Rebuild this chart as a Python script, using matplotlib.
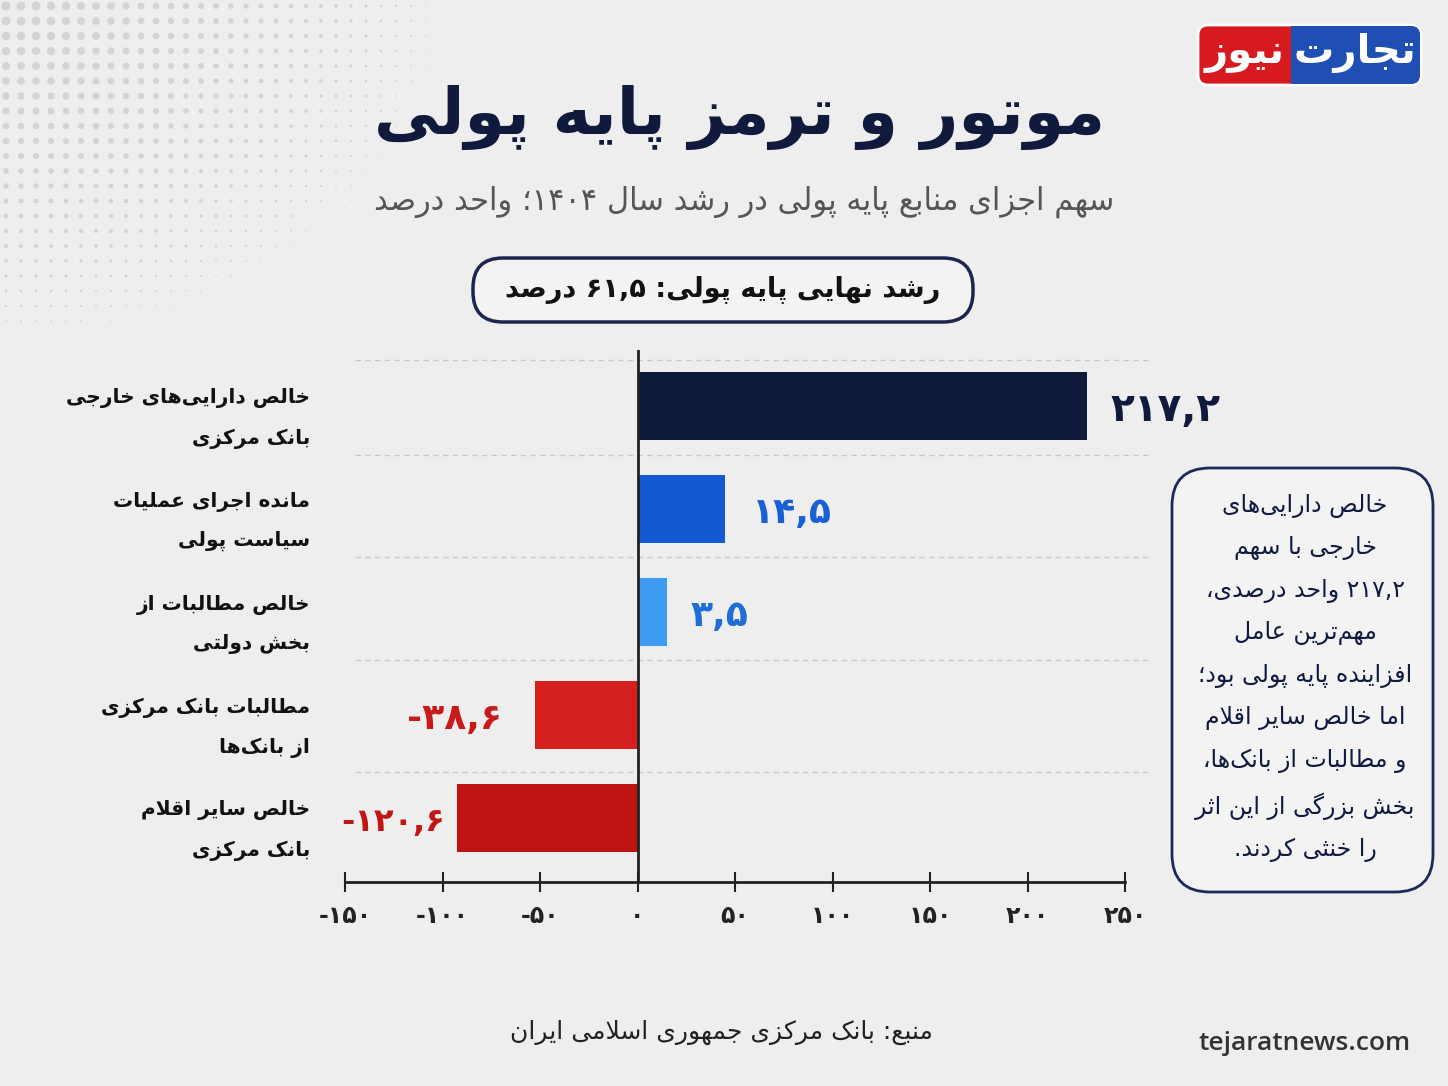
import re
import matplotlib.pyplot as plt
import numpy as np
from matplotlib.patches import FancyBboxPatch, Rectangle

# ---- data ----
categories = [
    'خالص دارایی‌های خارجی\nبانک مرکزی',
    'مانده اجرای عملیات\nسیاست پولی',
    'خالص مطالبات از\nبخش دولتی',
    'مطالبات بانک مرکزی\nاز بانک‌ها',
    'خالص سایر اقلام\nبانک مرکزی',
]
values = [217.2, 14.5, 3.5, -38.6, -120.6]        # printed labels
bar_len = [230.6, 44.9, 15.2, -52.6, -92.6]       # bar lengths as drawn on the axis
bar_colors = ['#0f1a3d', '#1259d2', '#3b9cf2', '#d41f1f', '#c01313']
label_colors = ['#0f1a3d', '#1a5fd4', '#1f6ed8', '#c81a1a', '#c21616']
xticks = [-150, -100, -50, 0, 50, 100, 150, 200, 250]

title = 'موتور و ترمز پایه پولی'
subtitle = 'سهم اجزای منابع پایه پولی در رشد سال ۱۴۰۴؛ واحد درصد'
headline = 'رشد نهایی پایه پولی: ۶۱,۵ درصد'
note_lines = [
    'خالص دارایی‌های',
    'خارجی با سهم',
    '۲۱۷,۲ واحد درصدی،',
    'مهم‌ترین عامل',
    'افزاینده پایه پولی بود؛',
    'اما خالص سایر اقلام',
    'و مطالبات از بانک‌ها،',
    'بخش بزرگی از این اثر',
    'را خنثی کردند.',
]
source = 'منبع: بانک مرکزی جمهوری اسلامی ایران'

# ---- minimal persian shaping (no arabic_reshaper available) ----
DUAL = {'ب': 0xFE8F, 'ت': 0xFE95, 'ث': 0xFE99, 'ج': 0xFE9D, 'ح': 0xFEA1, 'خ': 0xFEA5,
        'س': 0xFEB1, 'ش': 0xFEB5, 'ص': 0xFEB9, 'ض': 0xFEBD, 'ط': 0xFEC1, 'ظ': 0xFEC5,
        'ع': 0xFEC9, 'غ': 0xFECD, 'ف': 0xFED1, 'ق': 0xFED5, 'ل': 0xFEDD, 'م': 0xFEE1,
        'ن': 0xFEE5, 'ه': 0xFEE9, 'ي': 0xFEF1, 'پ': 0xFB56, 'چ': 0xFB7A, 'ک': 0xFB8E,
        'گ': 0xFB92, 'ی': 0xFBFC}
RIGHT = {'ا': 0xFE8D, 'آ': 0xFE81, 'د': 0xFEA9, 'ذ': 0xFEAB, 'ر': 0xFEAD, 'ز': 0xFEAF,
         'و': 0xFEED, 'ژ': 0xFB8A}


def shape_line(s):
    out = []
    i = 0
    while i < len(s):
        c = s[i]
        pj = i > 0 and s[i - 1] in DUAL
        if c == '\u200c':
            i += 1
            continue
        if c == 'ل' and i + 1 < len(s) and s[i + 1] in 'اآ':
            base = 0xFEFB if s[i + 1] == 'ا' else 0xFEF5
            out.append(chr(base + (1 if pj else 0)))
            i += 2
            continue
        if c in DUAL:
            nj = i + 1 < len(s) and (s[i + 1] in DUAL or s[i + 1] in RIGHT)
            b = DUAL[c]
            out.append(chr(b + 3 if pj and nj else b + 1 if pj else b + 2 if nj else b))
        elif c in RIGHT:
            out.append(chr(RIGHT[c] + (1 if pj else 0)))
        else:
            out.append(c)
        i += 1
    vis = ''.join(out)[::-1]
    return re.sub(r'[0-9۰-۹][0-9۰-۹,.]*', lambda m: m.group(0)[::-1], vis)


def fa(s):
    return '\n'.join(shape_line(l) for l in s.split('\n'))


def fa_num(v):
    s = f'{v:g}'.replace('.', ',')
    return s.translate(str.maketrans('0123456789', '۰۱۲۳۴۵۶۷۸۹'))


plt.rcParams['font.family'] = ['DejaVu Sans']
W, H = 1448, 1086
fig = plt.figure(figsize=(W / 100, H / 100), dpi=100)
fig.patch.set_facecolor('#eeeeee')

# background layer in pixel coordinates
bg = fig.add_axes([0, 0, 1, 1], zorder=0)
bg.set_xlim(0, W)
bg.set_ylim(H, 0)
bg.axis('off')

# halftone dots top-left
gx, gy = np.meshgrid(np.arange(6, 470, 15), np.arange(6, 360, 15))
d = np.hypot(gx / 470, gy / 360)
m = d < 1
bg.scatter(gx[m], gy[m], s=(1 - d[m]) ** 1.5 * 45, color='#d4d4d4', lw=0)

# logo
bg.add_patch(FancyBboxPatch((1198, 25), 223, 60, boxstyle='round,pad=0,rounding_size=10',
                            fc='#d71920', ec='white', lw=2))
bg.add_patch(FancyBboxPatch((1291, 26), 129, 58, boxstyle='round,pad=0,rounding_size=9',
                            fc='#1f4fb4', ec='none'))
bg.add_patch(Rectangle((1291, 26), 20, 58, fc='#1f4fb4', ec='none'))
bg.text(1355, 53, fa('تجارت'), color='white', fontsize=29, fontweight='bold', ha='center', va='center')
bg.text(1245, 53, fa('نیوز'), color='white', fontsize=29, fontweight='bold', ha='center', va='center')

# titles
bg.text(740, 118, fa(title), fontsize=47, fontweight='bold', color='#101a3c', ha='center', va='center')
bg.text(744, 202, fa(subtitle), fontsize=22, color='#555555', ha='center', va='center')

bg.add_patch(FancyBboxPatch((473, 258), 500, 64, boxstyle='round,pad=0,rounding_size=30',
                            fc='#f3f3f3', ec='#1b2550', lw=2.5))
bg.text(723, 290, fa(headline), fontsize=19.5, fontweight='bold', color='#111111', ha='center', va='center')

# note box
bg.add_patch(FancyBboxPatch((1172, 468), 261, 424, boxstyle='round,pad=0,rounding_size=38',
                            fc='#f3f3f3', ec='#1b2a5a', lw=2))
bg.text(1305, 678, fa('\n'.join(note_lines)), fontsize=17, color='#101a40', ha='center',
        va='center', linespacing=1.92)

# footer
bg.text(721, 1032, fa(source), fontsize=18, color='#222222', ha='center', va='center')
bg.text(1305, 1043, 'tejaratnews.com', fontsize=19, color='#333333', ha='center', va='center',
        family='Open Sans', fontweight='semibold')

# ---- chart ----
ax = fig.add_axes([345 / W, 1 - 882 / H, 780 / W, 532 / H], zorder=1)
ax.patch.set_alpha(0)
ypos = np.arange(len(categories))
ax.set_xlim(-150, 250)
ax.set_ylim(4.621, -0.544)

for gyv in [-0.45, 0.48, 1.47, 2.47, 3.55]:
    ax.plot([-145, 263], [gyv, gyv], color='#c9c9c9', lw=1, ls=(0, (4, 3)), clip_on=False, zorder=0)

ax.barh(ypos, bar_len, height=0.66, color=bar_colors, zorder=2)
ax.axvline(0, color='#222222', lw=2, zorder=3)

offsets = [23, 27, 23, 33, 12]
sizes = [28, 26, 26, 26, 23]
for y, L, v, c, off, fs in zip(ypos, bar_len, values, label_colors, offsets, sizes):
    sgn = 1 if L >= 0 else -1
    ax.annotate(fa_num(v), (L, y), xytext=(sgn * off * 0.72, -3), textcoords='offset points',
                ha='left' if sgn > 0 else 'right', va='center', fontsize=fs,
                fontweight='bold', color=c)

for s in ['top', 'right', 'left']:
    ax.spines[s].set_visible(False)
ax.spines['bottom'].set_linewidth(2)
ax.spines['bottom'].set_color('#222222')
ax.set_xticks(xticks, [fa_num(t) for t in xticks])
ax.tick_params(axis='x', direction='inout', length=14, width=1.5, pad=9, labelsize=17, colors='#222222')
for t in ax.get_xticklabels():
    t.set_fontweight('bold')
ax.set_yticks(ypos, [fa(c) for c in categories])
ax.tick_params(axis='y', length=0, pad=25, labelsize=14.5, colors='#111111')
for t in ax.get_yticklabels():
    t.set_fontweight('bold')
    t.set_multialignment('right')
    t.set_linespacing(2.3)

fig.savefig('out.png', dpi=100, facecolor=fig.get_facecolor())
